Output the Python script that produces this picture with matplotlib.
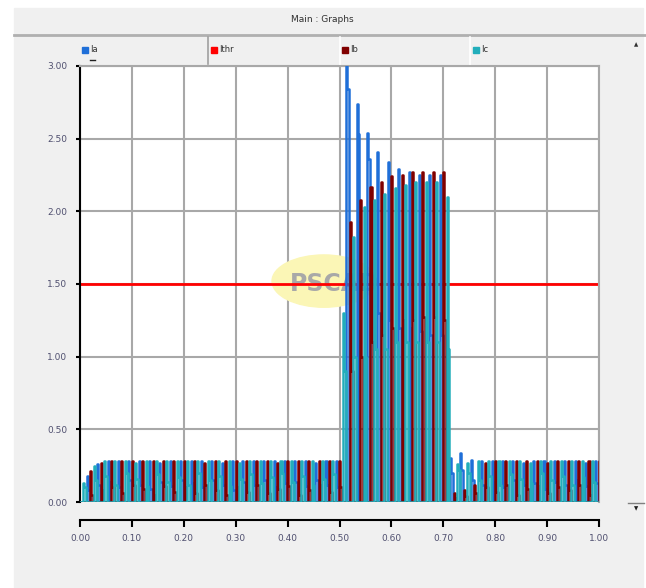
import matplotlib.pyplot as plt
import numpy as np
from matplotlib.patches import Rectangle, Ellipse
from matplotlib.lines import Line2D

W, H = 646, 588

# pulse start times: one pulse per 20 ms cycle for each phase
cycles = np.arange(50)
t_ia = 0.013 + 0.02 * cycles
t_ib = 0.0197 + 0.02 * cycles
t_ic = 0.0063 + 0.02 * cycles

# peak value of each pulse
ia_peak = [0.18, 0.26, 0.28, 0.28, 0.28, 0.28, 0.28, 0.27, 0.28, 0.28,
           0.28, 0.28, 0.28, 0.27, 0.28, 0.28, 0.28, 0.28, 0.28, 0.28,
           0.28, 0.28, 0.27, 0.28, 0.28, 3.00, 2.74, 2.54, 2.41, 2.34,
           2.29, 2.27, 2.25, 2.25, 2.25, 0.30, 0.34, 0.29, 0.28, 0.28,
           0.28, 0.28, 0.27, 0.28, 0.28, 0.28, 0.28, 0.28, 0.27, 0.28]
ib_peak = [0.21, 0.27, 0.28, 0.28, 0.28, 0.28, 0.28, 0.28, 0.28, 0.28,
           0.28, 0.27, 0.28, 0.28, 0.28, 0.28, 0.28, 0.28, 0.27, 0.28,
           0.28, 0.28, 0.28, 0.28, 0.28, 1.93, 2.08, 2.17, 2.20, 2.24,
           2.25, 2.27, 2.27, 2.27, 2.27, 0.06, 0.08, 0.12, 0.27, 0.28,
           0.28, 0.28, 0.28, 0.28, 0.27, 0.28, 0.28, 0.28, 0.28, 0.28]
ic_peak = [0.13, 0.25, 0.28, 0.28, 0.28, 0.27, 0.28, 0.28, 0.28, 0.28,
           0.28, 0.28, 0.28, 0.28, 0.28, 0.27, 0.28, 0.28, 0.28, 0.28,
           0.28, 0.28, 0.28, 0.28, 0.28, 1.30, 1.82, 2.03, 2.08, 2.12,
           2.16, 2.18, 2.20, 2.20, 2.20, 2.10, 0.26, 0.27, 0.28, 0.28,
           0.28, 0.28, 0.28, 0.27, 0.28, 0.28, 0.28, 0.28, 0.28, 0.28]

# level the pulse steps down to after its peak
ia_step = [0.08, 0.12, 0.14, 0.10, 0.15, 0.12, 0.09, 0.14, 0.11, 0.15,
           0.13, 0.10, 0.15, 0.12, 0.08, 0.14, 0.12, 0.15, 0.10, 0.13,
           0.14, 0.11, 0.15, 0.12, 0.10, 2.84, 2.53, 2.36, 1.30, 1.25,
           1.20, 1.20, 1.18, 1.15, 1.15, 0.20, 0.22, 0.15, 0.12, 0.14,
           0.10, 0.15, 0.12, 0.13, 0.09, 0.14, 0.12, 0.15, 0.11, 0.13]
ib_step = [0.05, 0.08, 0.10, 0.06, 0.12, 0.09, 0.05, 0.11, 0.07, 0.10,
           0.06, 0.12, 0.08, 0.05, 0.10, 0.07, 0.12, 0.06, 0.09, 0.11,
           0.05, 0.08, 0.12, 0.07, 0.10, 0.90, 1.00, 1.10, 1.15, 1.20,
           1.25, 1.25, 1.27, 1.27, 1.25, 0.03, 0.04, 0.06, 0.10, 0.07,
           0.12, 0.05, 0.09, 0.11, 0.06, 0.10, 0.08, 0.12, 0.05, 0.09]
ic_step = [0.10, 0.15, 0.18, 0.12, 0.20, 0.16, 0.11, 0.19, 0.14, 0.17,
           0.12, 0.20, 0.15, 0.18, 0.11, 0.16, 0.19, 0.13, 0.17, 0.20,
           0.14, 0.18, 0.12, 0.16, 0.19, 0.90, 1.00, 1.00, 1.05, 1.05,
           1.10, 1.10, 1.10, 1.10, 1.10, 1.05, 0.22, 0.20, 0.15, 0.18,
           0.12, 0.19, 0.16, 0.13, 0.20, 0.15, 0.18, 0.12, 0.17, 0.14]

ithr = 1.5

x_ticks = np.arange(0, 1.001, 0.1)
y_ticks = np.arange(0, 3.001, 0.5)


def pulse_trace(times, peaks, steps):
    t, v = [0.0], [0.0]
    for a, p, s in zip(times, peaks, steps):
        t += [a, a + 0.002, a + 0.0055]
        v += [p, s, 0.0]
    t.append(1.0)
    v.append(0.0)
    return t, v


narrow = ['Liberation Sans Narrow', 'DejaVu Sans']

fig = plt.figure(figsize=(W / 100, H / 100), dpi=100)
fig.patch.set_facecolor('white')
fig.add_artist(Rectangle((14 / W, 0), 1 - 17 / W, 1 - 8 / H,
                         transform=fig.transFigure, color='#f0f0f0', zorder=0))
# title bar and legend strip
fig.add_artist(Line2D([14 / W, 1], [1 - 35 / H] * 2, color='#b0b0b0', lw=2))
fig.add_artist(Line2D([208 / W] * 2, [1 - 37 / H, 1 - 64 / H], color='#a0a0a0', lw=1.2))
fig.add_artist(Line2D([340 / W] * 2, [1 - 37 / H, 1 - 64 / H], color='white', lw=1.2))
fig.add_artist(Line2D([470 / W] * 2, [1 - 37 / H, 1 - 64 / H], color='white', lw=1.2))
fig.text(322 / W, 1 - 20 / H, 'Main : Graphs', ha='center', va='center',
         fontsize=6.5, color='#303030', family=narrow)

legend = [('Ia', '#1f6fd8', 82), ('Ithr', '#ff0000', 211),
          ('Ib', '#800000', 342), ('Ic', '#22aebb', 473)]
for name, col, px in legend:
    fig.add_artist(Rectangle((px / W, 1 - 53 / H), 6 / W, 6 / H,
                             transform=fig.transFigure, color=col))
    fig.text((px + 8) / W, 1 - 50 / H, name, ha='left', va='center',
             fontsize=6, color='#303030', family=narrow)
fig.add_artist(Line2D([90 / W, 95 / W], [1 - 60 / H] * 2, color='#202020', lw=1))
fig.text(636 / W, 1 - 45 / H, '\u25b2', ha='center', va='center', fontsize=4, color='#303030')
fig.add_artist(Line2D([628 / W, 644 / W], [1 - 503 / H] * 2, color='#808080', lw=1))
fig.text(636 / W, 1 - 509 / H, '\u25bc', ha='center', va='center', fontsize=4, color='#202020')

ax = fig.add_axes([80 / W, 1 - 502 / H, 519 / W, 436 / H])
ax.set_facecolor('white')
ax.set_xlim(0, 1)
ax.set_ylim(0, 3)
ax.set_xticks(x_ticks)
ax.set_yticks(y_ticks)
ax.set_xticklabels(['%.2f' % v for v in x_ticks], family=narrow)
ax.set_yticklabels(['%.2f' % v for v in y_ticks], family=narrow)
ax.grid(True, color='#a8a8a8', lw=1.5, zorder=0)
ax.set_axisbelow(True)

for s in ['top', 'right']:
    ax.spines[s].set_color('#a8a8a8')
    ax.spines[s].set_linewidth(1.5)
ax.spines['left'].set_color('black')
ax.spines['left'].set_linewidth(1.5)
ax.spines['bottom'].set_color('black')
ax.spines['bottom'].set_linewidth(1.5)
ax.spines['bottom'].set_position(('outward', 13))
ax.tick_params(axis='x', direction='out', length=5, width=1.5, pad=5,
               labelsize=6.5, labelcolor='#505070')
ax.tick_params(axis='y', direction='out', length=3, width=1.5, pad=6,
               labelsize=6.5, labelcolor='#505070')

# PSCAD watermark
ax.add_patch(Ellipse((0.47, 1.52), 0.2, 0.36, color='#fbf6b6', zorder=1))
ax.text(0.49, 1.50, 'PSCAD', ha='center', va='center', fontsize=17,
        fontweight='bold', color='#a8a8a8', zorder=1, family=narrow)

ax.axhline(ithr, color='#ff0000', lw=2, zorder=2)

for times, peaks, steps, col in [(t_ia, ia_peak, ia_step, '#1f6fd8'),
                                 (t_ib, ib_peak, ib_step, '#800000'),
                                 (t_ic, ic_peak, ic_step, '#22aebb')]:
    t, v = pulse_trace(times, peaks, steps)
    ax.plot(t, v, drawstyle='steps-post', color=col, lw=1.8, zorder=3)

fig.savefig('out.png', dpi=100, facecolor=fig.get_facecolor())
